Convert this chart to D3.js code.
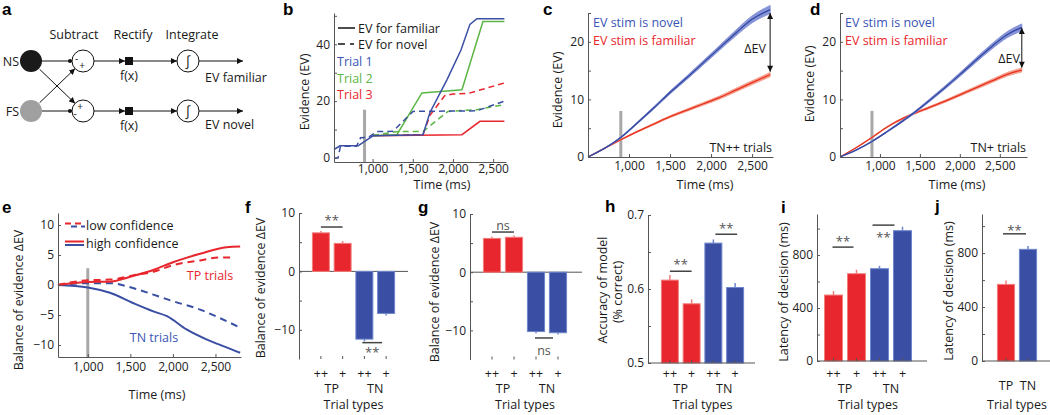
<!DOCTYPE html>
<html><head><meta charset="utf-8">
<script src="https://cdn.jsdelivr.net/npm/d3@7/dist/d3.min.js"></script>
<style>html,body{margin:0;padding:0;background:#fff}svg{display:block}</style>
</head><body>
<svg id="fig" width="1050" height="415" xmlns="http://www.w3.org/2000/svg"></svg>
<script>
// ================= DATA =================
// panel b: single-trial evidence traces [time (ms), EV]
const bTrial1Fam = [[520,3],[595,4.3],[820,4.3],[1005,7.8],[1627,8.2],[1714,16],[1925,27.5],[2100,38],[2211,47],[2298,49],[2640,49]];
const bTrial1Nov = [[520,0],[570,0],[600,4.1],[800,4.1],[850,7.1],[950,7.3],[1050,9.3],[1255,9.4],[1503,16.4],[2298,16.6],[2640,20]];
const bTrial2Fam = [[1005,7.8],[1303,8.2],[1614,22.9],[2112,24],[2373,48],[2640,48]];
const bTrial2Nov = [[1005,8],[1316,9.3],[1627,9.3],[1938,16.4],[2298,17],[2640,18.8]];
const bTrial3Fam = [[1005,7.8],[2112,8.2],[2336,12.9],[2640,12.9]];
const bTrial3Nov = [[1005,8],[1627,8.2],[1714,15],[1900,22],[2000,22.5],[2200,22.8],[2640,26.4]];
const bTrialNames = ["Trial 1","Trial 2","Trial 3"];

// panel c: TN++ trials
const cTime = [500,700,900,1100,1300,1500,1700,1900,2100,2300,2500,2720];
const cNovel = [0,1.5,3.4,5.9,8.5,11.2,13.7,16.3,18.9,21.5,23.9,25.6];
const cNovelSem = [0,0.05,0.1,0.15,0.2,0.25,0.3,0.35,0.4,0.5,0.6,0.7];
const cFamiliar = [0,1.5,3.0,4.4,5.7,7.0,8.1,9.2,10.3,11.6,12.9,14.3];
const cFamiliarSem = [0,0.05,0.08,0.1,0.13,0.16,0.2,0.23,0.26,0.3,0.33,0.36];

// panel d: TN+ trials
const dTime = [500,700,900,1100,1300,1400,1600,1800,2000,2200,2400,2600,2775];
const dNovel = [0,1.2,2.7,4.5,6.4,7.4,9.6,11.9,14.3,16.8,19.2,21.3,22.5];
const dNovelSem = [0,0.05,0.08,0.1,0.15,0.17,0.22,0.27,0.32,0.38,0.45,0.52,0.6];
const dFamiliar = [0,1.6,3.4,5.3,6.8,7.4,8.5,9.6,10.8,12.0,13.2,14.4,15.1];
const dFamiliarSem = [0,0.04,0.07,0.1,0.12,0.13,0.16,0.19,0.22,0.25,0.28,0.31,0.34];

// panel e: balance of evidence [time (ms), ΔEV]
const eTPHigh = [[650,0],[1000,0.5],[1250,0.55],[1530,1.5],[1770,2.5],[2000,3.8],[2320,5.2],[2630,6.3],[2790,6.4]];
const eTPLow  = [[650,0],[1000,0.8],[1260,0.9],[1530,1.6],[1770,2.2],[2000,3.3],[2320,4.1],[2550,4.6],[2710,4.6]];
const eTNHigh = [[650,0],[1000,-0.4],[1260,-1.3],[1530,-3.0],[1770,-4.4],[1930,-5.2],[2160,-7.4],[2400,-9.1],[2630,-10.4],[2790,-11.3]];
const eTNLow  = [[650,0],[1000,0.3],[1260,0.3],[1530,-0.5],[1770,-1.6],[2000,-2.7],[2320,-4.1],[2550,-5.5],[2790,-7.1]];

// bar panels
const barCats = ["TP++","TP+","TN++","TN+"];
const barTickLabels = ["++","+","++","+"];
const groupLabels = ["TP","TN"];
const fBalance = [6.6,4.8,-11.6,-7.2];   const fErr = [0.3,0.4,0.4,0.35];
const gBalance = [5.8,6.0,-10.2,-10.4];  const gErr = [0.3,0.3,0.3,0.3];
const hAccuracy = [0.612,0.580,0.662,0.602]; const hErr = [0.007,0.006,0.005,0.006];
const iLatency = [498,659,697,984];      const iErr = [30,30,22,30];
const jCats = ["TP","TN"];
const jLatency = [568,828];              const jErr = [28,25];

// time-axis ticks
const timeTicks = [1000,1500,2000,2500];

// ================= STYLE =================
const svg = d3.select("#fig");
svg.append("rect").attr("width",1050).attr("height",415).attr("fill","#fff");
const FONT = '"Open Sans", "Noto Sans", sans-serif';
const AX = "#555";
const RED="#e8262d", BLUE="#3a4fa3", GREEN="#5cb645", TBLUE="#3a55b5";
const RED_EDGE="#f27d7a", BLUE_EDGE="#6f86cc";
const GRAYLINE="#a8a8a8";

const defs = svg.append("defs");
defs.append("marker").attr("id","arr").attr("viewBox","0 0 10 10").attr("refX",10).attr("refY",5)
  .attr("markerWidth",6).attr("markerHeight",6).attr("markerUnits","userSpaceOnUse").attr("orient","auto-start-reverse")
  .append("path").attr("d","M0,0L10,5L0,10z").attr("fill","#111");
defs.append("marker").attr("id","arr2").attr("viewBox","0 0 10 10").attr("refX",10).attr("refY",5)
  .attr("markerWidth",7).attr("markerHeight",6).attr("markerUnits","userSpaceOnUse").attr("orient","auto-start-reverse")
  .append("path").attr("d","M0,0L10,5L0,10z").attr("fill","#111");

function txt(x,y,s,o={}){
  const t = svg.append("text").attr("x",x).attr("y",y).attr("font-family",o.family||FONT)
    .attr("font-size",o.size||12.5).attr("fill",o.fill||"#1a1a1a").attr("text-anchor",o.anchor||"start").text(s);
  if(o.weight) t.attr("font-weight",o.weight);
  return t;
}
function vtxt(x,y,s,o={}){
  return svg.append("text").attr("transform",`translate(${x},${y}) rotate(-90)`).attr("text-anchor","middle")
    .attr("dominant-baseline","central").attr("font-family",FONT).attr("font-size",o.size||12.5).attr("fill","#1a1a1a").text(s);
}
function panelLabel(s,x,y){ txt(x,y,s,{family:'"Liberation Sans", Arial, sans-serif',weight:"bold",size:17,fill:"#000"}); }
function styleAxis(a,size=12){
  a.select(".domain").attr("stroke",AX).attr("stroke-width",1);
  a.selectAll(".tick line").attr("stroke",AX);
  a.selectAll(".tick text").attr("font-family",FONT).attr("font-size",size).attr("fill","#222");
  return a;
}
function leftAxis(x,y,ticks,labelled,fmt){
  const ax = d3.axisLeft(y).tickValues(ticks).tickSizeInner(-3).tickSizeOuter(0).tickPadding(4)
    .tickFormat(d => labelled.some(l=>Math.abs(l-d)<1e-9) ? fmt(d) : "");
  return styleAxis(svg.append("g").attr("transform",`translate(${x},0)`).call(ax));
}
function bottomAxis(yPos,x,ticks,fmt,pad){
  const ax = d3.axisBottom(x).tickSizeInner(-3).tickSizeOuter(0).tickPadding(pad).tickFormat(fmt);
  if(ticks) ax.tickValues(ticks);
  return styleAxis(svg.append("g").attr("transform",`translate(0,${yPos})`).call(ax));
}
function hline(x1,x2,y,c=AX,w=1){ svg.append("line").attr("x1",x1).attr("x2",x2).attr("y1",y).attr("y2",y).attr("stroke",c).attr("stroke-width",w); }

// ================= PANEL a (schematic) =================
panelLabel("a",2,15);
(function(){
  const g = svg.append("g");
  const rows = [61,111];
  txt(74,38.5,"Subtract",{anchor:"middle"});
  txt(133,38.5,"Rectify",{anchor:"middle"});
  txt(192,38.5,"Integrate",{anchor:"middle"});
  const inputs = [{n:"NS",fill:"#1a1a1a",y:rows[0]},{n:"FS",fill:"#a0a0a0",y:rows[1]}];
  inputs.forEach(d=>{
    g.append("circle").attr("cx",31).attr("cy",d.y).attr("r",11).attr("fill",d.fill);
    txt(19,d.y+4.5,d.n,{anchor:"end"});
  });
  const subX=83, r=11;
  rows.forEach(y=>{
    g.append("line").attr("x1",42).attr("x2",subX-r).attr("y1",y).attr("y2",y).attr("stroke","#111");
    g.append("circle").attr("cx",subX-r-2).attr("cy",y).attr("r",2).attr("fill","#111");
  });
  function cross(y0,y1){
    const dx=subX-31, dy=y1-y0, L=Math.hypot(dx,dy), ux=dx/L, uy=dy/L;
    g.append("line").attr("x1",31+ux*12).attr("y1",y0+uy*12).attr("x2",subX-ux*r).attr("y2",y1-uy*r)
      .attr("stroke","#111").attr("marker-end","url(#arr)");
  }
  cross(rows[0],rows[1]); cross(rows[1],rows[0]);
  rows.forEach((y,i)=>{
    g.append("circle").attr("cx",subX).attr("cy",y).attr("r",r).attr("fill","#fff").attr("stroke","#111");
    if(i===0){ txt(76.5,y+1,"-",{size:10,anchor:"middle"}); txt(82,y+8,"+",{size:10,anchor:"middle"}); }
    else { txt(80,y-1.5,"+",{size:10,anchor:"middle"}); txt(75,y+6,"-",{size:10,anchor:"middle"}); }
    g.append("line").attr("x1",subX+r).attr("x2",125).attr("y1",y).attr("y2",y).attr("stroke","#111").attr("marker-end","url(#arr)");
    g.append("rect").attr("x",125).attr("y",y-4).attr("width",8).attr("height",8).attr("fill","#111");
    txt(129,y+19,"f(x)",{anchor:"middle"});
    g.append("line").attr("x1",133).attr("x2",177).attr("y1",y).attr("y2",y).attr("stroke","#111").attr("marker-end","url(#arr)");
    g.append("circle").attr("cx",188).attr("cy",y).attr("r",r).attr("fill","#fff").attr("stroke","#111");
    txt(188,y+5,"∫",{anchor:"middle",size:14});
    g.append("line").attr("x1",199).attr("x2",243).attr("y1",y).attr("y2",y).attr("stroke","#111").attr("marker-end","url(#arr)");
  });
  txt(205,82,"EV familiar");
  txt(205,129,"EV novel");
})();

// ================= PANEL b =================
panelLabel("b",283,15);
(function(){
  const x = d3.scaleLinear().domain([520,2660]).range([334,506]);
  const y = d3.scaleLinear().domain([-1.4,51]).range([162,13]);
  svg.append("line").attr("x1",x(900)).attr("x2",x(900)).attr("y1",y(-1.4)).attr("y2",y(17)).attr("stroke",GRAYLINE).attr("stroke-width",3);
  const line = d3.line().x(d=>x(d[0])).y(d=>y(d[1]));
  const series = [
    {d:bTrial3Nov,c:RED,dash:true},{d:bTrial3Fam,c:RED},
    {d:bTrial2Nov,c:GREEN,dash:true},{d:bTrial2Fam,c:GREEN},
    {d:bTrial1Nov,c:BLUE,dash:true},{d:bTrial1Fam,c:BLUE}
  ];
  series.forEach(s=>{
    svg.append("path").attr("d",line(s.d)).attr("fill","none").attr("stroke",s.c).attr("stroke-width",1.5)
      .attr("stroke-dasharray",s.dash?"6,4":null);
  });
  leftAxis(334,y,[0,10,20,30,40,50],[0,20,40],d3.format("d"));
  bottomAxis(162,x,timeTicks,d3.format(","),2);
  vtxt(304,92,"Evidence (EV)");
  txt(442,189,"Time (ms)",{anchor:"middle"});
  hline(338,355,28,"#111",1.5);
  svg.append("line").attr("x1",338).attr("x2",354).attr("y1",44).attr("y2",44).attr("stroke","#111").attr("stroke-width",1.5).attr("stroke-dasharray","7,5");
  txt(358,32.5,"EV for familiar");
  txt(358,48.5,"EV for novel");
  const tc=[TBLUE,GREEN,RED];
  bTrialNames.forEach((n,i)=>txt(337,66+i*16.5,n,{fill:tc[i]}));
})();

// ================= PANELS c, d =================
function evPanel(o){
  const x = d3.scaleLinear().domain(o.xdom).range(o.xr);
  const y = d3.scaleLinear().domain([0,25]).range([157,13]);
  svg.append("line").attr("x1",x(900)).attr("x2",x(900)).attr("y1",y(0)).attr("y2",y(8)).attr("stroke",GRAYLINE).attr("stroke-width",3);
  const idx = d3.range(o.time.length);
  const mk = (v,sem,band,lc)=>{
    const area = d3.area().x(i=>x(o.time[i])).y0(i=>y(v[i]-sem[i])).y1(i=>y(v[i]+sem[i])).curve(d3.curveMonotoneX);
    svg.append("path").attr("d",area(idx)).attr("fill",band).attr("stroke",band).attr("stroke-width",1);
    const ln = d3.line().x(i=>x(o.time[i])).y(i=>y(v[i])).curve(d3.curveMonotoneX);
    svg.append("path").attr("d",ln(idx)).attr("fill","none").attr("stroke",lc).attr("stroke-width",1.3);
  };
  mk(o.fam,o.famSem,"#f5a08e","#e8321f");
  mk(o.nov,o.novSem,"#8794d8","#3447a0");
  leftAxis(o.xr[0],y,[0,5,10,15,20,25],[0,10,20],d3.format("d"));
  bottomAxis(157,x,timeTicks,d3.format(","),4);
  const xe = x(o.time[o.time.length-1]);
  svg.append("line").attr("x1",xe).attr("x2",xe).attr("y1",y(o.nov[o.nov.length-1]-o.aTop)).attr("y2",y(o.fam[o.fam.length-1]+o.aBot))
    .attr("stroke","#111").attr("stroke-width",1).attr("marker-start","url(#arr2)").attr("marker-end","url(#arr2)");
  txt(o.dX,o.dY,"ΔEV",{anchor:"end"});
  txt(o.xr[0]+5,27,"EV stim is novel",{fill:TBLUE});
  txt(o.xr[0]+5,45,"EV stim is familiar",{fill:RED});
  txt(o.xr[1]-1,152,o.note,{anchor:"end"});
  vtxt(o.yl[0],o.yl[1],"Evidence (EV)");
  txt(o.tl,189,"Time (ms)",{anchor:"middle"});
}
panelLabel("c",543,15);
evPanel({xdom:[500,2755],xr:[588,773],time:cTime,nov:cNovel,novSem:cNovelSem,fam:cFamiliar,famSem:cFamiliarSem,
  aTop:0.6,aBot:0.5,dX:766,dY:53,note:"TN++ trials",yl:[557,90],tl:705});
panelLabel("d",810,15);
evPanel({xdom:[500,2840],xr:[840,1027],time:dTime,nov:dNovel,novSem:dNovelSem,fam:dFamiliar,famSem:dFamiliarSem,
  aTop:0.1,aBot:0.4,dX:1020,dY:63,note:"TN+ trials",yl:[809,84],tl:957});

// ================= PANEL e =================
panelLabel("e",2,213);
(function(){
  const x = d3.scaleLinear().domain([650,2800]).range([58,241]);
  const y = d3.scaleLinear().domain([-12,12]).range([357,213]);
  svg.append("line").attr("x1",x(1000)).attr("x2",x(1000)).attr("y1",y(-12)).attr("y2",y(2.8)).attr("stroke",GRAYLINE).attr("stroke-width",3);
  const line = d3.line().x(d=>x(d[0])).y(d=>y(d[1])).curve(d3.curveMonotoneX);
  [{d:eTNLow,c:BLUE,dash:true},{d:eTNHigh,c:BLUE},{d:eTPLow,c:RED,dash:true},{d:eTPHigh,c:RED}].forEach(s=>{
    svg.append("path").attr("d",line(s.d)).attr("fill","none").attr("stroke",s.c).attr("stroke-width",2)
      .attr("stroke-dasharray",s.dash?"7,5":null);
  });
  leftAxis(58,y,[-10,-5,0,5,10],[-10,-5,0,5,10],d3.format("d"));
  bottomAxis(357,x,timeTicks,d3.format(","),5);
  vtxt(18,300,"Balance of evidence ΔEV");
  txt(157,399,"Time (ms)",{anchor:"middle"});
  svg.append("line").attr("x1",65).attr("x2",83).attr("y1",223.5).attr("y2",223.5).attr("stroke",RED).attr("stroke-width",2).attr("stroke-dasharray","6,4");
  svg.append("line").attr("x1",67).attr("x2",85).attr("y1",226.5).attr("y2",226.5).attr("stroke",BLUE).attr("stroke-width",2).attr("stroke-dasharray","6,4").attr("stroke-dashoffset",-4);
  hline(65,84,241.5,RED,2); hline(65,84,245,BLUE,2);
  txt(86,229.5,"low confidence");
  txt(86,247.5,"high confidence");
  txt(210,280,"TP trials",{anchor:"middle",fill:RED});
  txt(154,342,"TN trials",{anchor:"middle",fill:TBLUE});
})();

// ================= BAR PANELS =================
function barPanel(o){
  const x = d3.scaleBand().domain(o.cats).range(o.xr).paddingInner(0.22).paddingOuter(0.11);
  const y = d3.scaleLinear().domain(o.ydom).range(o.yr);
  const base = o.base;
  const colOf = c => c.startsWith("TP") ? [RED,RED_EDGE] : [BLUE,BLUE_EDGE];
  if(o.zero) hline(o.axX, o.xEnd, y(0));
  o.cats.forEach((c,i)=>{
    const v=o.vals[i], e=o.errs[i], [fc,ec]=colOf(c);
    const y0=y(base), y1=y(v);
    svg.append("rect").attr("x",x(c)).attr("width",x.bandwidth()).attr("y",Math.min(y0,y1)).attr("height",Math.abs(y1-y0))
      .attr("fill",fc).attr("stroke",ec).attr("stroke-width",1);
    const ve = v>=base ? v+e : v-e;
    svg.append("line").attr("x1",x(c)+x.bandwidth()/2).attr("x2",x(c)+x.bandwidth()/2).attr("y1",y1).attr("y2",y(ve))
      .attr("stroke",ec).attr("stroke-width",1.5);
  });
  if(!o.zero) hline(o.axX, o.xEnd, o.yr[0]);
  leftAxis(o.axX,y,o.ticks,o.labelled,o.fmt);
  const bx = bottomAxis(o.yr[0],x,null,(d,i)=>o.tickLabels[i],o.pad);
  bx.select(".domain").remove();
  bx.selectAll(".tick text").attr("font-size",12.5).attr("fill","#1a1a1a");
  if(o.groups){
    o.groups.forEach((gname,k)=>{
      const a=o.cats[2*k], b=o.cats[2*k+1];
      txt((x(a)+x(b)+x.bandwidth())/2,393,gname,{anchor:"middle"});
    });
  }
  const mid = (x(o.cats[0]) + x(o.cats[o.cats.length-1]) + x.bandwidth())/2;
  txt(mid,409,"Trial types",{anchor:"middle"});
  (o.sig||[]).forEach(s=>{
    const xa = x(o.cats[s.a])+x.bandwidth()/2, xb = x(o.cats[s.b])+x.bandwidth()/2;
    const yy = y(s.v);
    hline(xa+s.l, xb+s.r, yy, "#444", 1.5);
    txt((xa+xb)/2+s.l/2+s.r/2, yy+s.dy, s.t, {anchor:"middle",fill:"#555",size:s.t==="ns"?12.5:13});
  });
  vtxt(o.yl[0],o.yl[1],o.ylab);
  if(o.ylab2) vtxt(o.yl2[0],o.yl2[1],o.ylab2);
}
panelLabel("f",245,213);
barPanel({cats:barCats,vals:fBalance,errs:fErr,xr:[310,397],ydom:[-15,10],yr:[359,213],base:0,zero:true,axX:299,xEnd:408,
  ticks:[-10,-5,0,5,10],labelled:[-10,0,10],fmt:d3.format("d"),tickLabels:barTickLabels,pad:10,groups:groupLabels,
  sig:[{a:0,b:1,v:7.6,t:"**",dy:-2,l:0,r:0},{a:2,b:3,v:-12.2,t:"**",dy:14,l:-2,r:-4}],
  ylab:"Balance of evidence ΔEV",yl:[260,288]});
panelLabel("g",418,213);
barPanel({cats:barCats,vals:gBalance,errs:gErr,xr:[481,569],ydom:[-15,10],yr:[359.5,214],base:0,zero:true,axX:470,xEnd:582,
  ticks:[-10,-5,0,5,10],labelled:[-10,0,10],fmt:d3.format("d"),tickLabels:barTickLabels,pad:10,groups:groupLabels,
  sig:[{a:0,b:1,v:6.9,t:"ns",dy:-2.5,l:0,r:0},{a:2,b:3,v:-11.3,t:"ns",dy:17,l:-1,r:-5}],
  ylab:"Balance of evidence ΔEV",yl:[434,292]});
panelLabel("h",605,212);
barPanel({cats:barCats,vals:hAccuracy,errs:hErr,xr:[659,746],ydom:[0.5,0.7],yr:[363,215],base:0.5,zero:false,axX:648,xEnd:755,
  ticks:[0.5,0.55,0.6,0.65,0.7],labelled:[0.5,0.6,0.7],fmt:d3.format(".1f"),tickLabels:barTickLabels,pad:6,groups:groupLabels,
  sig:[{a:0,b:1,v:0.624,t:"**",dy:-2,l:0,r:0},{a:2,b:3,v:0.674,t:"**",dy:-1,l:2,r:2}],
  ylab:"Accuracy of model",yl:[602,290],ylab2:"(% correct)",yl2:[617,292]});
panelLabel("i",781,213);
barPanel({cats:barCats,vals:iLatency,errs:iErr,xr:[822,914],ydom:[0,1110],yr:[361,214],base:0,zero:false,axX:817,xEnd:927,
  ticks:[0,200,400,600,800,1000],labelled:[0,400,800],fmt:d3.format("d"),tickLabels:barTickLabels,pad:8,groups:groupLabels,
  sig:[{a:0,b:1,v:860,t:"**",dy:-1,l:-1,r:-3},{a:2,b:3,v:1026,t:"**",dy:17,l:-7,r:-8}],
  ylab:"Latency of decision (ms)",yl:[783,292]});
panelLabel("j",935,212);
barPanel({cats:jCats,vals:jLatency,errs:jErr,xr:[995,1039],ydom:[0,1090],yr:[361,214],base:0,zero:false,axX:982,xEnd:1050,
  ticks:[0,200,400,600,800,1000],labelled:[0,400,800],fmt:d3.format("d"),tickLabels:jCats,pad:20,groups:null,
  sig:[{a:0,b:1,v:943,t:"**",dy:1,l:-3,r:-2}],
  ylab:"Latency of decision (ms)",yl:[948,291]});
</script>
</body></html>
